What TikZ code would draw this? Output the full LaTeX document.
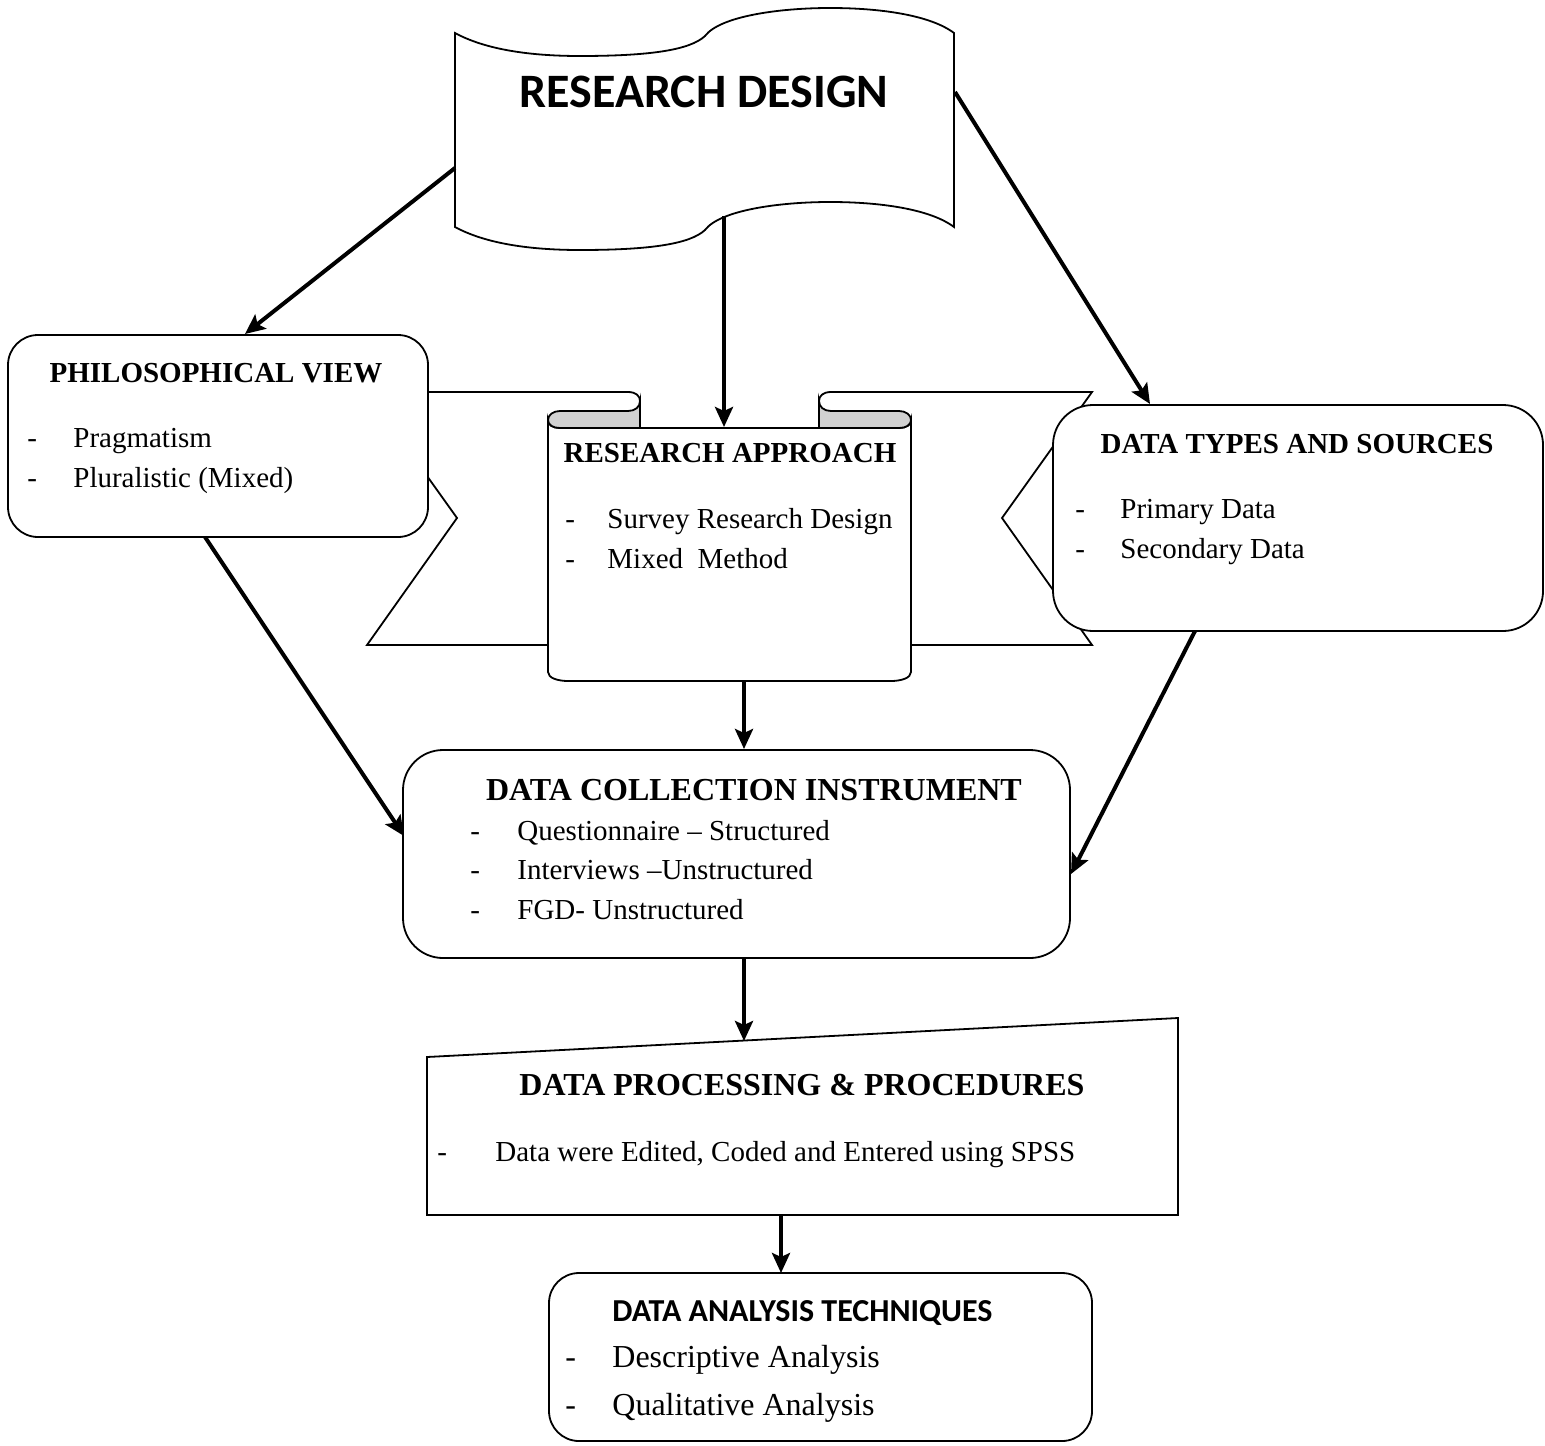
\documentclass[tikz,border=0pt]{standalone}
\usepackage{fontspec}
\setmainfont{Liberation Serif}
\newfontfamily\calibri{Carlito}
\usetikzlibrary{arrows.meta}
\tikzset{
  shapeline/.style={draw=black, line width=0.9pt, fill=white},
  curl/.style={draw=black, line width=0.9pt, fill=black!18},
  roundbox/.style={rectangle, draw=black, line width=0.9pt, fill=white,
                   inner sep=0pt},
  heading/.style={font=\bfseries\fontsize{14.5}{17}\selectfont, anchor=base,
                  inner sep=0pt},
  item/.style={font=\fontsize{14.5}{17}\selectfont, anchor=base west,
               inner sep=0pt},
  arrow/.style={-{Stealth[length=10pt, width=9pt, inset=2pt]}, line width=2pt},
}

\begin{document}
\begin{tikzpicture}[x=0.5pt, y=-0.5pt]
  \useasboundingbox (0,0) rectangle (1545,1445);

  % wave banner
  \draw[shapeline] (455,33) .. controls (490,52) and (540,56) .. (580,56)
    .. controls (650,56) and (690,50) .. (705,36)
    .. controls (720,16) and (780,8) .. (830,8)
    .. controls (880,8) and (930,15) .. (954,33) -- (954,227)
    .. controls (930,209) and (880,202) .. (830,202)
    .. controls (780,202) and (720,210) .. (705,230)
    .. controls (690,244) and (650,250) .. (580,250)
    .. controls (540,250) and (490,246) .. (455,227) -- cycle;

  % ribbon
  \draw[shapeline] (367,392) -- (628,392) .. controls (636,392) and (640,396) .. (640,401)
    -- (640,645) -- (367,645) -- (457,518) -- cycle;
  \draw[shapeline] (1092,392) -- (831,392) .. controls (823,392) and (819,396) .. (819,401)
    -- (819,645) -- (1092,645) -- (1002,518) -- cycle;
  \draw[shapeline] (548,420) -- (548,672) .. controls (548,678) and (558,681) .. (568,681)
    -- (891,681) .. controls (901,681) and (911,678) .. (911,672)
    -- (911,420) .. controls (911,425) and (906,428) .. (899,428)
    -- (560,428) .. controls (553,428) and (548,425) .. (548,420) -- cycle;
  \draw[curl] (640,401) .. controls (640,407) and (635,411) .. (628,411) -- (560,411)
    .. controls (553,411) and (548,415) .. (548,420)
    .. controls (548,425) and (553,428) .. (560,428) -- (640,428) -- cycle;
  \draw[curl] (819,401) .. controls (819,407) and (824,411) .. (831,411) -- (899,411)
    .. controls (906,411) and (911,415) .. (911,420)
    .. controls (911,425) and (906,428) .. (899,428) -- (819,428) -- cycle;

  \node[roundbox, rounded corners=15pt, minimum width=210pt, minimum height=101pt]
    (pv) at (218,436) {};
  \node[roundbox, rounded corners=20pt, minimum width=245pt, minimum height=113pt]
    (ts) at (1298,518) {};
  \node[roundbox, rounded corners=20pt, minimum width=333.5pt, minimum height=104pt]
    (dci) at (736.5,854) {};
  \node[roundbox, rounded corners=15pt, minimum width=271.5pt, minimum height=84pt]
    (dat) at (820.5,1357) {};
  \draw[shapeline] (427,1057) -- (1178,1018) -- (1178,1215) -- (427,1215) -- cycle;

  \coordinate (rd-w)  at (455,168);
  \coordinate (rd-s)  at (724,216);
  \coordinate (rd-e)  at (955,92);
  \coordinate (pv-n)  at (245,334);
  \coordinate (ra-n)  at (724,427);
  \coordinate (ts-n)  at (1150,404);
  \coordinate (ra-s)  at (744,681);
  \coordinate (dci-n) at (744,749);
  \coordinate (pv-s)  at (205,537);
  \coordinate (dci-w) at (404,836);
  \coordinate (ts-s)  at (1195,631);
  \coordinate (dci-e) at (1071,874);
  \coordinate (dci-s) at (744,958);
  \coordinate (dpp-n) at (744,1041);
  \coordinate (dpp-s) at (781,1215);
  \coordinate (dat-n) at (781,1273);

  \foreach \a/\b in {rd-w/pv-n, rd-s/ra-n, rd-e/ts-n, ra-s/dci-n, pv-s/dci-w,
                     ts-s/dci-e, dci-s/dpp-n, dpp-s/dat-n}
    \draw[arrow] (\a) -- (\b);

  \node[heading, font=\calibri\bfseries\fontsize{24}{28}\selectfont] (rd) at (704,107) {RESEARCH DESIGN};

  \node[heading] (pv-t) at (216,382) {PHILOSOPHICAL VIEW};
  \node[item] (pv-d1) at (27,447) {-};
  \node[item] (pv-i1) at (73,447) {Pragmatism};
  \node[item] (pv-d2) at (27,487) {-};
  \node[item] (pv-i2) at (73,487) {Pluralistic (Mixed)};

  \node[heading] (ra-t) at (730,462) {RESEARCH APPROACH};
  \node[item] (ra-d1) at (565,528) {-};
  \node[item] (ra-i1) at (607,528) {Survey Research Design};
  \node[item] (ra-d2) at (565,568) {-};
  \node[item] (ra-i2) at (607,568) {Mixed\ \ Method};

  \node[heading] (ts-t) at (1297,453) {DATA TYPES AND SOURCES};
  \node[item] (ts-d1) at (1075,518) {-};
  \node[item] (ts-i1) at (1120,518) {Primary Data};
  \node[item] (ts-d2) at (1075,558) {-};
  \node[item] (ts-i2) at (1120,558) {Secondary Data};

  \node[heading, font=\bfseries\fontsize{16}{19}\selectfont] (dci-t) at (754,800) {DATA COLLECTION INSTRUMENT};
  \node[item] (dci-d1) at (470,840) {-};
  \node[item] (dci-i1) at (517,840) {Questionnaire – Structured};
  \node[item] (dci-d2) at (470,879) {-};
  \node[item] (dci-i2) at (517,879) {Interviews –Unstructured};
  \node[item] (dci-d3) at (470,919) {-};
  \node[item] (dci-i3) at (517,919) {FGD- Unstructured};

  \node[heading, font=\bfseries\fontsize{16}{19}\selectfont] (dpp-t) at (802,1095) {DATA PROCESSING \& PROCEDURES};
  \node[item] (dpp-d1) at (437,1161) {-};
  \node[item] (dpp-i1) at (495,1161) {Data were Edited, Coded and Entered using SPSS};

  \node[item, font=\calibri\bfseries\fontsize{16}{19}\selectfont] (dat-t) at (612,1321) {DATA ANALYSIS TECHNIQUES};
  \node[item, font=\fontsize{16}{19}\selectfont] (dat-d1) at (565,1367) {-};
  \node[item, font=\fontsize{16}{19}\selectfont] (dat-i1) at (612,1367) {Descriptive Analysis};
  \node[item, font=\fontsize{16}{19}\selectfont] (dat-d2) at (565,1415) {-};
  \node[item, font=\fontsize{16}{19}\selectfont] (dat-i2) at (612,1415) {Qualitative Analysis};

\end{tikzpicture}
\end{document}
